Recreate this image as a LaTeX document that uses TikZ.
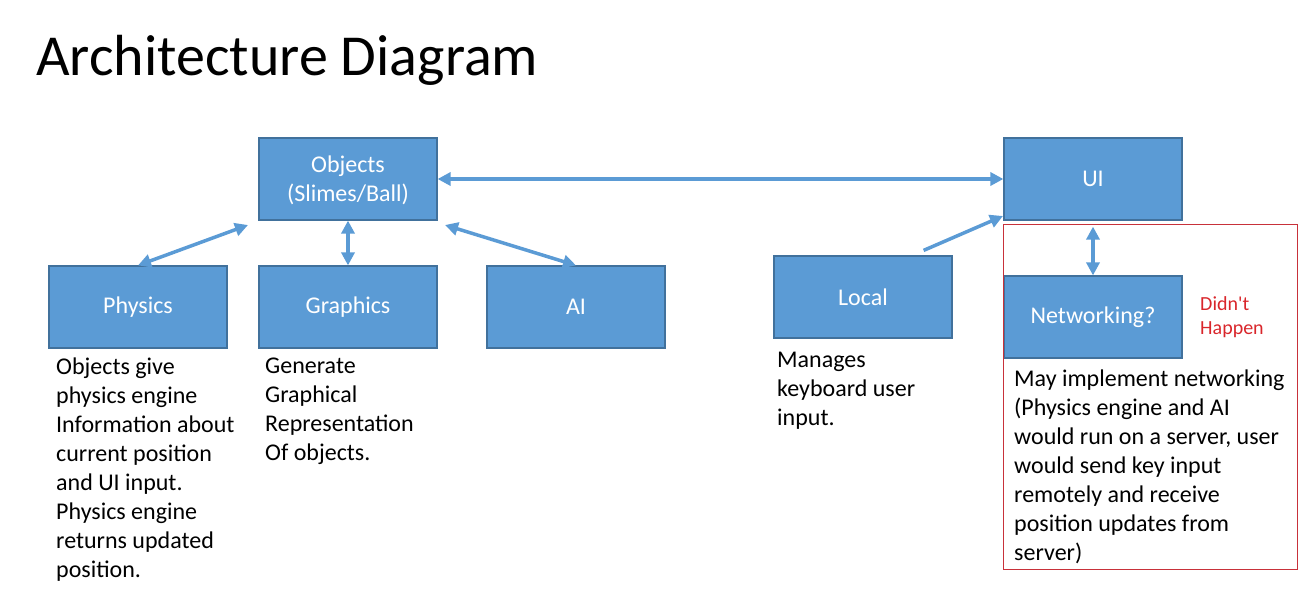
\documentclass[tikz,border=0pt]{standalone}
\usepackage{fontspec}
\setmainfont{Carlito}
\usetikzlibrary{arrows.meta}

\definecolor{boxblue}{HTML}{5B9BD5}
\definecolor{boxedge}{HTML}{41719C}
\definecolor{notered}{HTML}{D9262B}
\definecolor{frame}{HTML}{C8313A}

\tikzset{
  block/.style={draw=boxedge, line width=1.2pt, fill=boxblue, text=white,
    minimum width=178pt, minimum height=82pt, align=center,
    font=\fontsize{24}{29}\selectfont},
  note/.style={anchor=north west, inner sep=0pt, align=left,
    font=\fontsize{24}{29}\selectfont},
  link/.style={draw=boxblue, line width=3.5pt,
    {Triangle[length=13pt,width=13pt]}-{Triangle[length=13pt,width=13pt]}},
  feed/.style={draw=boxblue, line width=3.5pt, -{Triangle[length=13pt,width=13pt]}}
}

\begin{document}
\begin{tikzpicture}[x=1pt, y=-1pt]
        \useasboundingbox (0,0) rectangle (1307,595);
        \node[anchor=base west, inner sep=0pt, font=\fontsize{58}{66}\selectfont] (title) at (36,75) {Architecture Diagram};

        \node[block] (objects) at (348,179) {\strut Objects\\(Slimes/Ball)};
        \node[block] (ui) at (1093,179) {UI};
        \node[block] (physics) at (138,307) {Physics};
        \node[block] (graphics) at (348,307) {Graphics};
        \node[block] (ai) at (576,307) {AI};
        \node[block] (local) at (863,297) {Local};
        \node[block] (net) at (1093,317) {Networking?};

        \draw[draw=frame, line width=1pt] (1003,224) rectangle (1297,569);
        \node[note, text=notered, font=\fontsize{20}{24}\selectfont] (nope) at (1200,296) {Didn\textquotesingle t\\Happen};

        \node[note] (physicstext) at (56,358) {Objects give\\physics engine\\Information about\\current position\\and UI input.\\Physics engine\\returns updated\\position.};
        \node[note] (graphicstext) at (265,358) {Generate\\Graphical\\Representation\\Of objects.};
        \node[note] (localtext) at (777,352) {Manages\\keyboard user\\input.};
        \node[note] (nettext) at (1014,370) {May implement networking\\(Physics engine and AI\\would run on a server, user\\would send key input\\remotely and receive\\position updates from\\server)};

        \coordinate (objsw) at (248,225);
        \coordinate (objse) at (445,225);
        \coordinate (uisw) at (1003,216);
        \draw[link] (objects.east) -- (ui.west);
        \draw[link] (objsw) -- (physics.north);
        \draw[link] (objects.south) -- (graphics.north);
        \draw[link] (objse) -- (ai.north);
        \draw[feed] (local.north east) ++(-29,-5) coordinate (localtip) (localtip) -- (uisw);
        \draw[link] (ui.south) ++(0,6) -- (net.north);
    \end{tikzpicture}
\end{document}
